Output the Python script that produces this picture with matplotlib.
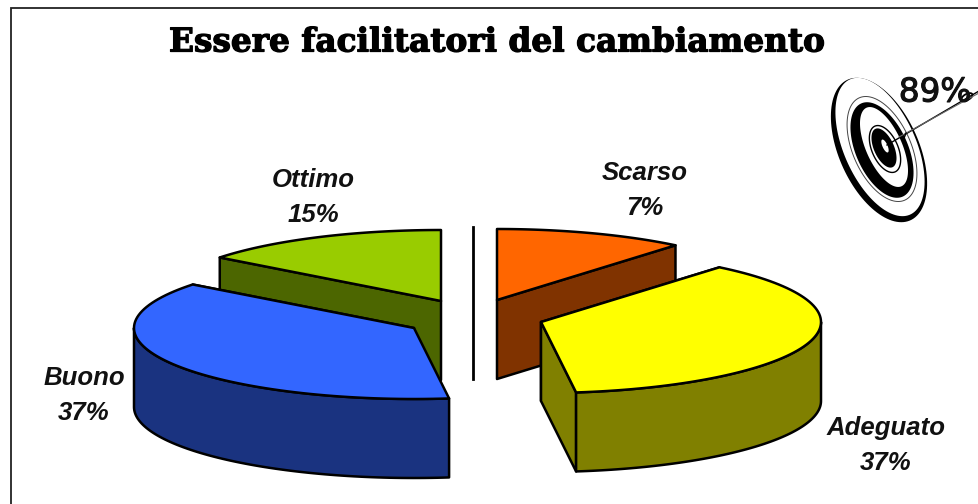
import numpy as np
import matplotlib
matplotlib.use("Agg")
import matplotlib.pyplot as plt
from matplotlib.patches import Polygon
import matplotlib.patheffects as pe

title = "Essere facilitatori del cambiamento"
categories = ["Scarso", "Adeguato", "Buono", "Ottimo"]
slice_shares = [11, 37, 37.5, 14.5]
label_values = ["7%", "37%", "37%", "15%"]
target_label = "89%"

top_colors = ["#FF6600", "#FFFF00", "#3366FF", "#99CC00"]
side_colors = ["#803300", "#808000", "#1A3380", "#4C6600"]
centers = [(497, 300), (541, 322), (414, 328), (441, 301)]
label_pos = [(645, 173), (886, 428), (84, 378), (313, 180)]
RX, RY, DEPTH = 280, 71, 79

fig = plt.figure(figsize=(9.79, 5.04), dpi=100)
ax = fig.add_axes([0, 0, 1, 1])
ax.set_xlim(0, 979)
ax.set_ylim(504, 0)
ax.axis("off")

# frame
ax.plot([11, 11, 979], [504, 8, 8], color="#222222", lw=1.3, solid_joinstyle="miter")

# slice angles (clockwise from top)
cum = np.cumsum([0] + slice_shares) / sum(slice_shares) * 2 * np.pi


def rim(c, a0, a1, n=80):
    t = np.linspace(a0, a1, n)
    return np.column_stack([c[0] + RX * np.sin(t), c[1] - RY * np.cos(t)])


def radial(c, a):
    return np.array([[c[0], c[1]], [c[0] + RX * np.sin(a), c[1] - RY * np.cos(a)]])


down = np.array([0, DEPTH])
LW = 1.8


def poly(pts, fc):
    ax.add_patch(Polygon(pts, closed=True, fc=fc, ec="black", lw=LW, joinstyle="round"))


for i in [3, 0, 1, 2]:
    c, a0, a1 = centers[i], cum[i], cum[i + 1]
    # inner radial walls facing the viewer
    for a in (a0, a1):
        if np.cos(a) > 0 and a > 0 and a < 2 * np.pi - 1e-6 or (i == 1 and a == a1):
            r = radial(c, a)
            poly(np.vstack([r, r[::-1] + down]), side_colors[i])
    # outer wall: the lower half of the rim
    lo, hi = max(a0, np.pi / 2), min(a1, 3 * np.pi / 2)
    if hi > lo:
        r = rim(c, lo, hi)
        poly(np.vstack([r, r[::-1] + down]), side_colors[i])
    # top
    poly(np.vstack([[c], rim(c, a0, a1)]), top_colors[i])

# separator line in the gap
ax.plot([473, 473], [227, 379], color="black", lw=2)

# labels
lab = dict(family="Liberation Sans", style="italic", weight="bold", size=18.5,
           ha="center", va="center", color="#111111")
for name, val, (x, y) in zip(categories, label_values, label_pos):
    ax.text(x, y, name, **lab)
    ax.text(x, y + 35, val, **lab)

t = ax.text(497, 42, title, family="DejaVu Serif", weight="bold", size=23.6,
            ha="center", va="center", color="black")
t.set_path_effects([pe.withStroke(linewidth=0.9, foreground="black")])


# target icon
def ell(cx, cy, a, b, fc, ec="none", lw=0.8, tilt=np.radians(-24)):
    s = np.linspace(0, 2 * np.pi, 120)
    u, v = b * np.cos(s), a * np.sin(s)
    x = cx + u * np.cos(tilt) - v * np.sin(tilt)
    y = cy + u * np.sin(tilt) + v * np.cos(tilt)
    ax.add_patch(Polygon(np.column_stack([x, y]), closed=True, fc=fc, ec=ec, lw=lw))


ell(879, 150, 77, 40, "black")
ell(880, 147, 74, 36, "white")
ell(882, 149, 56, 29, "white", "#444444", 0.7)
ell(882, 150, 51, 26, "black")
ell(884, 147, 43, 18, "white")
ell(885, 149, 25, 13, "white", "black", 1.0)
ell(884, 148, 21, 10, "black")
ell(885, 146, 7, 2.5, "white")

t2 = ax.text(935, 92, target_label, family="DejaVu Sans", size=23.5, ha="center",
             va="center", color="#111111")
t2.set_path_effects([pe.withStroke(linewidth=0.8, foreground="#111111")])
ax.plot([887, 979], [145, 91], color="black", lw=1.0)
ax.plot([899, 979], [137, 93], color="#666666", lw=0.8)
ax.plot([906, 903], [133, 141], color="black", lw=1.0)
ell(967, 97, 6, 3, "none", "black", 1.3, tilt=np.radians(62))

fig.savefig("out.png", dpi=100)
